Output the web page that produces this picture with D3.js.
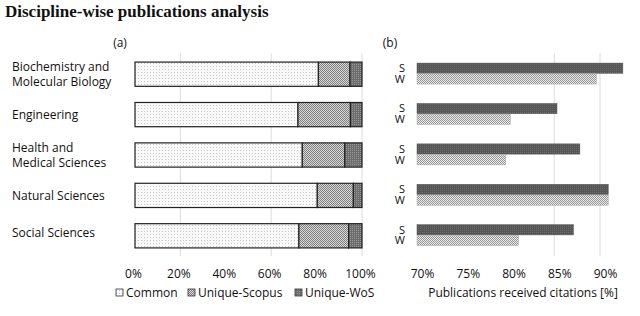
<!DOCTYPE html>
<html>
<head>
<meta charset="utf-8">
<script src="https://cdn.jsdelivr.net/npm/d3@7"></script>
<style>
  body { margin: 0; background: #fff; }
  svg text { font-family: "Open Sans", sans-serif; fill: #111; }
</style>
</head>
<body>
<div id="chart"></div>
<script>
// data
const disciplines = ["Biochemistry and Molecular Biology", "Engineering", "Health and Medical Sciences", "Natural Sciences", "Social Sciences"]
const labelLines = [["Biochemistry and", "Molecular Biology"], ["Engineering"], ["Health and", "Medical Sciences"], ["Natural Sciences"], ["Social Sciences"]]
const common = [80.8, 71.8, 73.7, 80.3, 72.2]
const uniqueScopus = [13.9, 23.1, 18.7, 15.9, 21.9]
const uniqueWos = [5.3, 5.1, 7.6, 3.8, 5.9]
const seriesNames = ["Common", "Unique-Scopus", "Unique-WoS"]
const citedScopus = [92.5, 85.3, 87.8, 90.9, 87.1]
const citedWos = [89.6, 80.2, 79.7, 90.9, 81.1]
const sources = ["S", "W"]
const ticksA = [0, 20, 40, 60, 80, 100]
const ticksB = [70, 75, 80, 85, 90]
const gridA = [20, 60, 100]
const gridB = [85, 90]

const width = 640
const height = 316
const fontSize = "12px"

const svg = d3.select("div#chart").append("svg").attr("width", width).attr("height", height)

// patterns
const defs = svg.append("defs")
function pattern(id, size, bg, dots) {
    const p = defs.append("pattern").attr("id", id).attr("width", size).attr("height", size)
        .attr("patternUnits", "userSpaceOnUse")
    p.append("rect").attr("width", size).attr("height", size).attr("fill", bg)
    dots.forEach(d => p.append("rect").attr("x", d[0]).attr("y", d[1]).attr("width", 1).attr("height", 1).attr("fill", d[2]))
}
pattern("pCommon", 3, "#f9f9f9", [[0, 0, "#c4c4c4"]])
pattern("pScopus", 2, "#dcdcdc", [[0, 0, "#7c7c7c"], [1, 1, "#7c7c7c"]])
pattern("pWos", 2, "#6c6c6c", [[0, 0, "#9a9a9a"]])
pattern("pS", 2, "#555555", [[0, 0, "#6e6e6e"]])
pattern("pW", 2, "#ececec", [[0, 0, "#959595"], [1, 1, "#959595"]])
const fills = ["url(#pCommon)", "url(#pScopus)", "url(#pWos)"]

// title
svg.append("text").attr("x", 5).attr("y", 17)
    .style("font-family", "'Liberation Serif', serif").style("font-weight", "bold").style("font-size", "17px")
    .text("Discipline-wise publications analysis")

// scales
const y = d3.scaleBand().domain(disciplines).range([54, 256]).paddingInner(0.4).paddingOuter(0.2)
const xA = d3.scaleLinear().domain([0, 100]).range([135, 362])
const xB = d3.scaleLinear().domain([70, 90]).range([417, 600])
const ySub = d3.scaleBand().domain(sources).range([1, 22]).paddingInner(0.05)

// (a) panel
const gA = svg.append("g")
gA.selectAll("line.grid").data(gridA).join("line").attr("class", "grid")
    .attr("x1", d => xA(d)).attr("x2", d => xA(d)).attr("y1", 53).attr("y2", 256)
    .attr("stroke", "#dcdcdc").attr("stroke-width", 1)

const stacked = disciplines.map((d, i) => {
    const vals = [common[i], uniqueScopus[i], uniqueWos[i]]
    let acc = 0
    return vals.map((v, k) => { const s = { d, k, x0: acc, x1: acc + v }; acc += v; return s })
}).flat()

gA.selectAll("rect.seg").data(stacked).join("rect").attr("class", "seg")
    .attr("x", s => xA(s.x0)).attr("width", s => xA(s.x1) - xA(s.x0))
    .attr("y", s => y(s.d)).attr("height", y.bandwidth())
    .attr("fill", s => fills[s.k]).attr("stroke", "#222").attr("stroke-width", 1.2)

gA.append("text").attr("x", 120).attr("y", 47).attr("text-anchor", "middle").style("font-size", fontSize).text("(a)")

// category labels
disciplines.forEach((d, i) => {
    const lines = labelLines[i]
    const cy = y(d) + y.bandwidth() / 2 - (i === 4 ? 3 : 0)
    const t = svg.append("text").attr("y", cy - (lines.length - 1) * 7.5)
        .style("font-size", fontSize)
    lines.forEach((l, j) => t.append("tspan").attr("x", 12).attr("dy", j === 0 ? "0.35em" : "15").text(l))
})

const axisA = svg.append("g").attr("transform", "translate(-2,256)")
    .call(d3.axisBottom(xA).tickValues(ticksA).tickSize(0).tickPadding(13).tickFormat(d => d + "%"))
axisA.select(".domain").remove()
axisA.selectAll("text").style("font-size", fontSize).style("font-family", "'Open Sans', sans-serif").attr("fill", "#111")

// legend
const legendX = [116, 188, 295]
const legend = svg.append("g").selectAll("g").data(seriesNames).join("g")
    .attr("transform", (d, i) => `translate(${legendX[i]},293)`)
legend.append("rect").attr("x", 0).attr("y", -4).attr("width", 7).attr("height", 7)
    .attr("fill", (d, i) => fills[i]).attr("stroke", "#333").attr("stroke-width", 0.8)
legend.append("text").attr("x", 10).attr("dy", "0.35em").style("font-size", fontSize).text(d => d)

// (b) panel
const gB = svg.append("g")
gB.selectAll("line.grid").data(gridB).join("line").attr("class", "grid")
    .attr("x1", d => xB(d)).attr("x2", d => xB(d)).attr("y1", 53).attr("y2", 256)
    .attr("stroke", "#dcdcdc").attr("stroke-width", 1)

const cited = disciplines.map((d, i) => [
    { d, s: "S", v: citedScopus[i] },
    { d, s: "W", v: citedWos[i] }
]).flat()

gB.selectAll("rect.cit").data(cited).join("rect").attr("class", "cit")
    .attr("x", xB(70)).attr("width", c => xB(c.v) - xB(70))
    .attr("y", c => y(c.d) + ySub(c.s)).attr("height", ySub.bandwidth())
    .attr("fill", c => c.s === "S" ? "url(#pS)" : "url(#pW)")
    .attr("stroke", c => c.s === "S" ? "#555" : "#aaa").attr("stroke-width", 0.5)

gB.selectAll("text.src").data(cited).join("text").attr("class", "src")
    .attr("x", 405).attr("y", c => y(c.d) + ySub(c.s) + ySub.bandwidth() / 2).attr("dy", "0.35em")
    .attr("text-anchor", "end").style("font-size", "11px").text(c => c.s)

gB.append("text").attr("x", 390).attr("y", 47).attr("text-anchor", "middle").style("font-size", fontSize).text("(b)")

const axisB = svg.append("g").attr("transform", "translate(5,256)")
    .call(d3.axisBottom(xB).tickValues(ticksB).tickSize(0).tickPadding(13).tickFormat(d => d + "%"))
axisB.select(".domain").remove()
axisB.selectAll("text").style("font-size", fontSize).style("font-family", "'Open Sans', sans-serif").attr("fill", "#111")

svg.append("text").attr("x", 523).attr("y", 293).attr("dy", "0.35em").attr("text-anchor", "middle")
    .style("font-size", fontSize).text("Publications received citations [%]")
</script>
</body>
</html>
